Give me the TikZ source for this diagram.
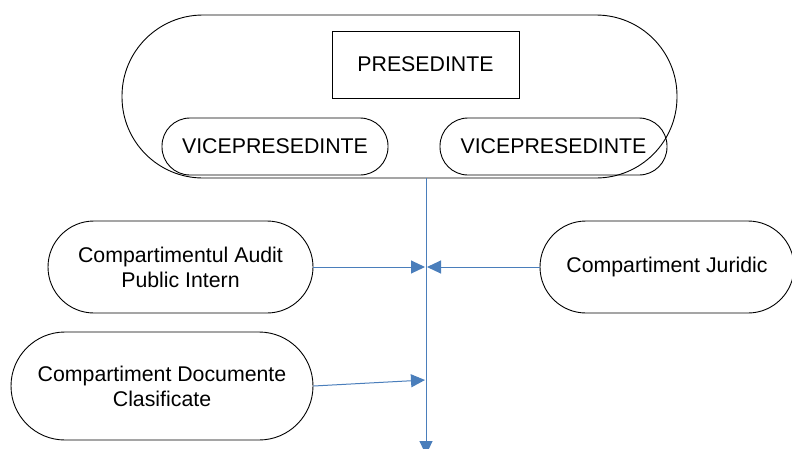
\documentclass[tikz,border=0pt]{standalone}
\usepackage{fontspec}
\setmainfont{Liberation Sans}
\usetikzlibrary{arrows.meta}
\definecolor{linkblue}{HTML}{4A7EBB}
\begin{document}
\begin{tikzpicture}[x=1pt,y=-1pt,
  every node/.style={inner sep=0pt, line width=0.9pt, align=center,
    font=\fontsize{21.3}{25}\selectfont},
  pill/.style={draw=black, rectangle},
  headbox/.style={draw=black, rectangle},
  link/.style={draw=linkblue, line width=1pt,
    -{Triangle[length=14pt,width=13pt,fill=linkblue]}}]
\useasboundingbox (0,0) rectangle (792,448);

% council enclosure with the president and the two vice-presidents
\node[pill, minimum width=555pt, minimum height=163pt, rounded corners=81pt] (board) at (399.5,96.5) {};
\node[headbox, minimum width=187pt, minimum height=67pt] (pres) at (425.5,64.5) {PRESEDINTE};
\node[pill, minimum width=226pt, minimum height=57pt, rounded corners=28pt] (vpl) at (275,146.5) {VICEPRESEDINTE};
\node[pill, minimum width=227pt, minimum height=57pt, rounded corners=28pt] (vpr) at (553.5,146.5) {VICEPRESEDINTE};

% departments
\node[pill, minimum width=265pt, minimum height=92pt, rounded corners=46pt] (audit) at (180.5,267) {Compartimentul Audit\\Public Intern};
\begin{scope}
\clip (0,0) rectangle (792,448);
\node[pill, minimum width=254pt, minimum height=92pt, rounded corners=46pt] (jur) at (667,267) {Compartiment Juridic};
\end{scope}
\node[pill, minimum width=302pt, minimum height=108pt, rounded corners=54pt] (docs) at (162,386) {Compartiment Documente\\Clasificate};

% main vertical line and its junction points
\coordinate (top) at (426,178);
\coordinate (bottom) at (426,455);
\coordinate (ja) at (425,267);
\coordinate (jb) at (427,267);
\coordinate (jc) at (425,380);
\begin{scope}
\clip (0,0) rectangle (792,448);
\draw[link] (top) -- (bottom);
\end{scope}
\draw[link] (audit.east) -- (ja);
\draw[link] (jur.west) -- (jb);
\draw[link] (docs.east) -- (jc);
\end{tikzpicture}
\end{document}
